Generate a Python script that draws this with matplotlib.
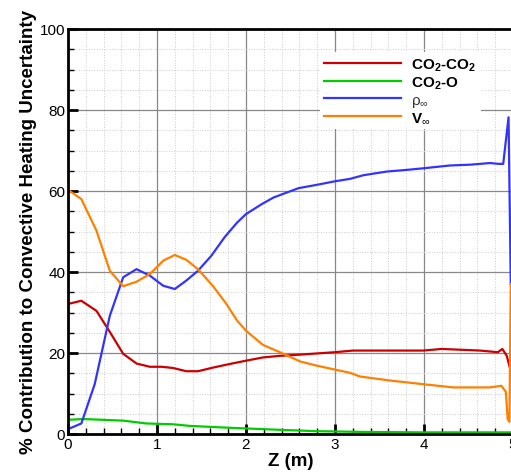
import numpy as np
import matplotlib; matplotlib.use("Agg")
import matplotlib.pyplot as plt
from matplotlib.ticker import MultipleLocator

plt.rcParams['font.family'] = ['Liberation Sans', 'DejaVu Sans']
plt.rcParams['mathtext.fontset'] = 'custom'
plt.rcParams['mathtext.rm'] = 'Liberation Sans'
plt.rcParams['mathtext.bf'] = 'Liberation Sans:bold'
plt.rcParams['mathtext.it'] = 'Liberation Sans:italic'

# ---- data ----
z_red = [0.0, 0.15, 0.32, 0.47, 0.62, 0.77, 0.92, 1.05, 1.18, 1.33, 1.46, 1.63, 1.82, 2.0, 2.19,
         2.38, 2.61, 3.0, 3.2, 3.62, 3.99, 4.2, 4.63, 4.83, 4.88, 4.93, 4.975]
co2_co2 = [32.1, 32.9, 30.4, 25.2, 19.8, 17.4, 16.6, 16.6, 16.3, 15.5, 15.5, 16.4, 17.3, 18.1, 18.9,
           19.3, 19.6, 20.2, 20.6, 20.6, 20.6, 21.0, 20.6, 20.2, 21.0, 19.3, 15.5]

z_grn = [0.0, 0.17, 0.62, 0.88, 1.18, 1.37, 1.85, 2.42, 2.79, 3.36, 4.0, 4.975]
co2_o = [3.5, 3.7, 3.3, 2.6, 2.4, 2.0, 1.5, 1.0, 0.7, 0.5, 0.4, 0.4]

z_blu = [0.0, 0.15, 0.3, 0.47, 0.62, 0.77, 0.92, 1.07, 1.2, 1.33, 1.46, 1.61, 1.76, 1.9, 2.0,
         2.18, 2.31, 2.59, 2.79, 3.0, 3.17, 3.32, 3.58, 3.8, 3.99, 4.29, 4.52, 4.74, 4.84, 4.89,
         4.95, 4.975]
rho_inf = [1.2, 2.6, 12.3, 29.2, 38.7, 40.7, 39.1, 36.6, 35.8, 37.9, 40.3, 44.0, 48.6, 52.2, 54.3,
           56.8, 58.4, 60.7, 61.5, 62.4, 63.0, 63.9, 64.8, 65.2, 65.6, 66.3, 66.5, 66.9, 66.7, 66.7,
           78.2, 37.0]

z_org = [0.0, 0.15, 0.32, 0.47, 0.62, 0.77, 0.92, 1.07, 1.2, 1.33, 1.46, 1.63, 1.78, 1.9, 2.0,
         2.19, 2.38, 2.61, 2.79, 3.0, 3.17, 3.28, 3.62, 3.99, 4.33, 4.74, 4.87, 4.92, 4.94, 4.96,
         4.975]
v_inf = [60.3, 58.0, 50.2, 40.3, 36.5, 37.6, 39.5, 42.8, 44.2, 43.0, 40.7, 36.5, 32.1, 28.0, 25.5,
         22.0, 20.2, 17.9, 16.9, 15.9, 15.1, 14.2, 13.2, 12.3, 11.5, 11.5, 11.9, 10.4, 3.7, 3.0,
         37.0]

labels = [r'CO$_\mathbf{2}$-CO$_\mathbf{2}$', r'CO$_\mathbf{2}$-O', r'$\mathrm{\rho}_\infty$', r'V$_\infty$']
colors = ['#cc0000', '#00cc00', '#3333ff', '#ff8000']

fig = plt.figure(figsize=(5.11, 4.77), dpi=100)
W, H = 511, 477
ax = fig.add_axes([68 / W, (H - 435) / H, 445 / W, 405 / H])

ax.plot(z_red, co2_co2, color=colors[0], lw=1.6, label=labels[0])
ax.plot(z_grn, co2_o, color=colors[1], lw=1.6, label=labels[1])
ax.plot(z_blu, rho_inf, color=colors[2], lw=1.6, label=labels[2])
ax.plot(z_org, v_inf, color=colors[3], lw=1.6, label=labels[3])

ax.set_xlim(0, 5); ax.set_ylim(0, 100)
ax.xaxis.set_major_locator(MultipleLocator(1)); ax.xaxis.set_minor_locator(MultipleLocator(0.2))
ax.yaxis.set_major_locator(MultipleLocator(20)); ax.yaxis.set_minor_locator(MultipleLocator(5))
ax.grid(True, which='major', color='#888888', lw=0.9)
ax.grid(True, which='minor', color='#cccccc', lw=0.7, ls=':')
ax.set_axisbelow(True)
ax.tick_params(which='major', direction='in', length=7, width=2, labelsize=11, pad=2)
ax.tick_params(which='minor', direction='in', length=4, width=1)
for s in ax.spines.values():
    s.set_linewidth(2)

ax.set_xlabel('Z (m)', fontsize=13.5, fontweight='bold', labelpad=1)
ax.set_ylabel('% Contribution to Convective Heating Uncertainty', fontsize=13.5, fontweight='bold', labelpad=2)

leg = ax.legend(loc='upper left', bbox_to_anchor=(312 / W, 1 - 45 / H), bbox_transform=fig.transFigure,
                frameon=True, fancybox=False, framealpha=1, facecolor='white', edgecolor='none',
                prop={'weight': 'bold', 'size': 11}, handlelength=5.0, handletextpad=0.7,
                labelspacing=0.12, borderpad=0.3)
leg.get_texts()[2].set_fontweight('normal')
leg.get_texts()[2].set_color('#333333')

fig.savefig('out.png', dpi=100)
